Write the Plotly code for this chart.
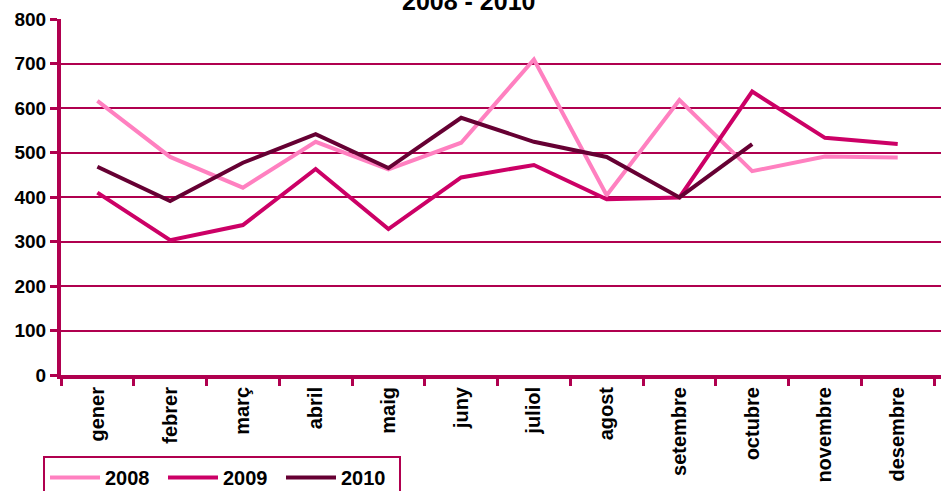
import plotly.graph_objects as go

months = ["gener", "febrer", "març", "abril", "maig", "juny",
          "juliol", "agost", "setembre", "octubre", "novembre", "desembre"]
y2008 = [616, 490, 421, 524, 462, 522, 709, 404, 618, 458, 491, 489]
y2009 = [410, 303, 337, 463, 328, 444, 472, 395, 399, 637, 533, 519]
y2010 = [468, 391, 477, 541, 465, 578, 524, 490, 399, 519]
yticks = [0, 100, 200, 300, 400, 500, 600, 700, 800]

AXIS = "#B0004F"
FONT = "Liberation Sans, Arial, sans-serif"

fig = go.Figure()
fig.add_trace(go.Scatter(x=months, y=y2008, name="2008", mode="lines",
                         line=dict(color="#FF80C0", width=4)))
fig.add_trace(go.Scatter(x=months, y=y2009, name="2009", mode="lines",
                         line=dict(color="#CC0066", width=4)))
fig.add_trace(go.Scatter(x=months[:len(y2010)], y=y2010, name="2010", mode="lines",
                         line=dict(color="#660033", width=4)))

fig.update_layout(
    width=941, height=491,
    margin=dict(l=61, r=0, t=19, b=116, autoexpand=False),
    paper_bgcolor="white", plot_bgcolor="white",
    font=dict(family=FONT, color="black"),
    showlegend=True,
    legend=dict(
        orientation="h", xref="container", yref="container",
        x=43 / 941, y=1 - 456 / 491, xanchor="left", yanchor="top",
        bordercolor=AXIS, borderwidth=2, bgcolor="white",
        font=dict(family=FONT, size=20, color="black", weight="bold"),
        itemwidth=50, entrywidth=53, entrywidthmode="pixels",
        tracegroupgap=0,
    ),
    xaxis=dict(
        type="category", categoryorder="array", categoryarray=months,
        range=[-0.5, 11.595], automargin=False,
        tickson="boundaries", ticks="outside", ticklen=7, tickwidth=3, tickcolor=AXIS,
        showline=True, linecolor=AXIS, linewidth=4,
        showgrid=False, tickangle=-90,
        tickfont=dict(family=FONT, size=20, color="black", weight="bold"),
    ),
    yaxis=dict(
        range=[0, 800], tickvals=yticks, ticktext=[str(v) for v in yticks],
        automargin=False,
        ticks="outside", ticklen=7, tickwidth=3, tickcolor=AXIS,
        showline=True, linecolor=AXIS, linewidth=4,
        showgrid=True, gridcolor=AXIS, gridwidth=2, zeroline=False,
        tickfont=dict(family=FONT, size=19, color="black", weight="bold"),
    ),
    annotations=[dict(
        text="2008 - 2010", xref="paper", yref="paper",
        x=(468 - 61) / 880, y=(375 - 1.5) / 356, xanchor="center", yanchor="middle",
        showarrow=False,
        font=dict(family=FONT, size=25, color="black", weight="bold"),
    )],
)

fig.write_html("out.html")
